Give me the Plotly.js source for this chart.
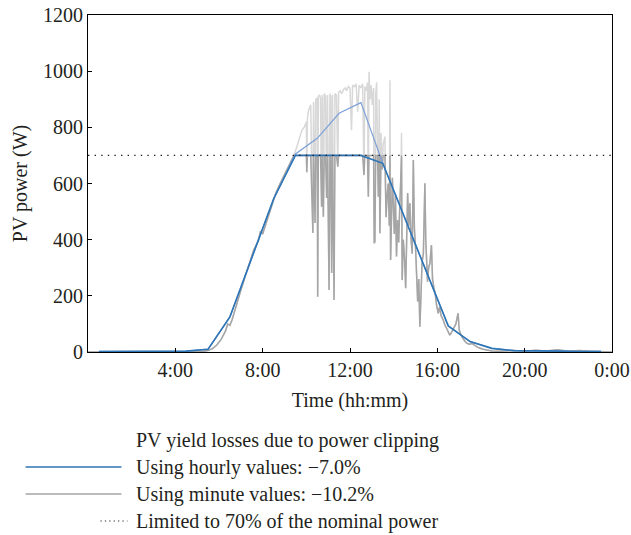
<!DOCTYPE html>
<html>
<head>
<meta charset="utf-8">
<script src="https://cdn.plot.ly/plotly-3.0.1.min.js"></script>
<style>html,body{margin:0;padding:0;background:#fff;}#chart{width:631px;height:535px;}</style>
</head>
<body>
<div id="chart"></div>
<script>
// Hourly mean values (plotted at mid-hour), W
const hourTimes = [0.5,1.5,2.5,3.5,4.5,5.5,6.5,7.5,8.5,9.5,10.5,11.5,12.5,13.5,14.5,15.5,16.5,17.5,18.5,19.5,20.5,21.5,22.5,23.5];
const hourValues = [2,2,2,2,3,10,125,335,545,705,761,850,888,672,480,285,93,37,13,5,3,3,2,2];

// Minute-resolution values, hours / W
const minuteTimes = [0,1,2,3,4,5,5.3,5.5,5.7,5.9,6.1,6.3,6.4,6.5,6.6,6.8,7.0,7.2,7.4,7.6,7.8,7.9,8.0,8.2,8.4,8.6,8.8,9.0,9.2,9.4,9.5,9.6,9.7,9.8,9.9,10.0,10.02,10.05,10.1,10.2,10.3,10.33,10.4,10.43,10.5,10.52,10.55,10.6,10.65,10.7,10.73,10.78,10.82,10.88,10.93,10.97,11.04,11.08,11.12,11.16,11.2,11.27,11.31,11.38,11.44,11.48,11.55,11.62,11.7,11.78,11.85,11.92,12.0,12.07,12.12,12.2,12.28,12.35,12.42,12.5,12.58,12.64,12.68,12.75,12.8,12.84,12.87,12.92,12.97,13.02,13.08,13.11,13.14,13.18,13.22,13.26,13.3,13.34,13.37,13.42,13.47,13.52,13.6,13.65,13.7,13.75,13.8,13.83,13.86,13.9,13.94,13.98,14.03,14.08,14.13,14.18,14.23,14.28,14.33,14.36,14.39,14.44,14.5,14.55,14.6,14.64,14.69,14.74,14.8,14.85,14.9,14.95,15.0,15.05,15.1,15.15,15.2,15.25,15.3,15.36,15.43,15.47,15.5,15.55,15.6,15.66,15.73,15.78,15.84,15.9,15.96,16.04,16.1,16.17,16.27,16.35,16.45,16.57,16.65,16.75,16.85,16.95,17.0,17.05,17.15,17.25,17.33,17.45,17.6,17.75,17.9,18.1,18.3,18.5,18.8,19,19.5,20,20.5,21,21.5,22,22.5,23,23.5,24];
const minuteValues = [0,0,2,0,2,2,3,5,12,25,45,75,100,95,115,170,220,270,320,365,395,430,420,470,520,565,600,630,665,695,715,740,760,790,800,820,640,830,860,880,424,890,459,900,905,197,910,915,905,517,915,482,920,910,548,915,221,920,910,281,915,185,920,915,660,925,930,920,935,940,930,945,940,790,950,945,955,856,950,940,955,630,945,930,960,553,998,900,950,880,940,387,393,920,960,720,553,900,423,780,650,740,767,480,560,600,450,968,328,500,620,541,420,560,340,470,390,520,600,780,256,400,330,227,420,566,450,530,400,350,684,440,375,300,180,260,90,200,320,350,601,400,328,250,300,316,381,260,230,209,170,138,160,130,114,95,80,60,70,85,100,138,80,67,50,40,32,28,30,22,15,10,6,4,3,4,5,3,6,4,8,3,5,3,2,0];

const limitValue = 700;
const limitTimes = [0, 24];

const xTickVals = [4,8,12,16,20,24];
const xTickText = ['4:00','8:00','12:00','16:00','20:00','0:00'];
const yTickVals = [0,200,400,600,800,1000,1200];

const legendTitle = 'PV yield losses due to power clipping';
const legendLabels = ['Using hourly values: \u22127.0%','Using minute values: \u221210.2%','Limited to 70% of the nominal power'];

const clip = v => Math.min(v, limitValue);

const traces = [
  {x: minuteTimes, y: minuteValues, mode:'lines', line:{color:'rgb(216,216,216)', width:1.5}, name:'minute unclipped', hoverinfo:'skip'},
  {x: minuteTimes, y: minuteValues.map(clip), mode:'lines', line:{color:'rgb(165,165,165)', width:1.5}, name:legendLabels[1]},
  {x: hourTimes, y: hourValues, mode:'lines', line:{color:'rgb(125,160,215)', width:1.2}, name:'hourly unclipped'},
  {x: hourTimes, y: hourValues.map(clip), mode:'lines', line:{color:'rgb(46,117,182)', width:1.6}, name:legendLabels[0]},
  {x: limitTimes, y: limitTimes.map(() => limitValue), mode:'lines', line:{color:'rgb(35,31,32)', width:1.4, dash:'1.4px,5.2px'}, name:legendLabels[2]}
];

const font = {family:'Liberation Serif, Times New Roman, serif', size:20, color:'#231f20'};
const L = 87.5, R = 612.5, T = 15, B = 352;
const px = x => (x - L) / (R - L);
const py = y => (B - y) / (B - T);

const rowsY = [467, 494, 521];
const sampleX = [[25,121],[25,121],[100,127]];
const sampleStyles = [
  {color:'rgb(46,117,182)', width:1.6},
  {color:'rgb(165,165,165)', width:1.6},
  {color:'rgb(35,31,32)', width:1.2, dash:'1.2px,3.2px'}
];

const shapes = rowsY.map((yy, i) => ({
  type:'line', xref:'paper', yref:'paper', x0:px(sampleX[i][0]), x1:px(sampleX[i][1]), y0:py(yy), y1:py(yy), line:sampleStyles[i]
}));

const annotations = [
  {text: legendTitle, xref:'paper', yref:'paper', x:px(134), y:py(441), xanchor:'left', yanchor:'middle', showarrow:false, font:font}
].concat(legendLabels.map((t, i) => ({
  text:t, xref:'paper', yref:'paper', x:px(134), y:py(rowsY[i]), xanchor:'left', yanchor:'middle', showarrow:false, font:font
})));

const layout = {
  width:631, height:535,
  margin:{l:L, r:631-R, t:T, b:535-B, pad:0},
  paper_bgcolor:'#fff', plot_bgcolor:'#fff',
  font:font,
  showlegend:false,
  xaxis:{range:[0,24], tickvals:xTickVals, ticktext:xTickText, ticks:'inside', ticklen:4, tickcolor:'#000',
    showline:true, linecolor:'#000', linewidth:1, mirror:true, showgrid:false, zeroline:false,
    title:{text:'Time (hh:mm)', font:font, standoff:12}},
  yaxis:{range:[0,1200], tickvals:yTickVals, ticks:'inside', ticklen:4, tickcolor:'#000',
    showline:true, linecolor:'#000', linewidth:1, mirror:true, showgrid:false, zeroline:false,
    title:{text:'PV power (W)', font:font, standoff:10}},
  shapes:shapes,
  annotations:annotations
};

Plotly.newPlot('chart', traces, layout, {displayModeBar:false, staticPlot:true});
</script>
</body>
</html>
